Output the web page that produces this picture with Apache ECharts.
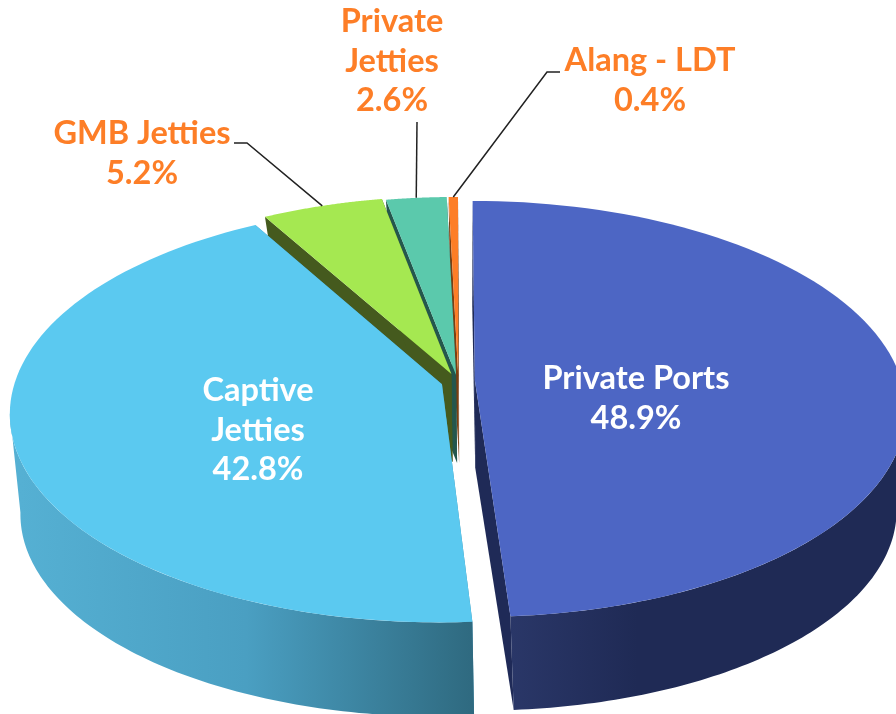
<!DOCTYPE html>
<html>
<head>
<meta charset="utf-8">
<style>html,body{margin:0;padding:0;background:#fff}#chart{width:896px;height:714px}</style>
<script src="https://cdn.jsdelivr.net/npm/echarts@6/dist/echarts.min.js"></script>
</head>
<body>
<div id="chart"></div>
<script>
var names = ['Private Ports', 'Captive\nJetties', 'GMB Jetties', 'Private\nJetties', 'Alang - LDT'];
var shares = [48.9, 42.8, 5.2, 2.6, 0.4];

// look of each slice, same order as above
var topColors = ['#4d66c4', '#5bc9f0', '#a5e851', '#5bc9ac', '#fd7e27'];
var cutColors = ['#1f2a57', '#3f8fb0', '#455a1e', '#24574d', '#7a3f12'];
var wallStops = [
    [[0, '#2a3768'], [0.33, '#1f2a55'], [1, '#1f2a55']],
    [[0, '#55b0d3'], [0.5, '#4a9fc2'], [1, '#2f6a80']],
    [[0, '#455a1e'], [1, '#455a1e']],
    [[0, '#24574d'], [1, '#24574d']],
    [[0, '#7a3f12'], [1, '#7a3f12']]
];
var drawOrder = [3, 4, 2, 1, 0];
// how far each slice is pulled out, in units of the radius
var pullX = [0.043, -0.034, -0.012, -0.001, 0.004];
var pullY = [-0.025, -0.045, 0.005, 0, 0];

// label placement: centre x, y of first line, colour
var labelX = [636, 258, 142, 392, 650];
var labelY = [379, 391, 134, 22, 61];
var labelColors = ['#ffffff', '#ffffff', '#fd7e27', '#fd7e27', '#fd7e27'];
var leaders = [null, null, [[234, 143], [247, 143]], [[417, 122]], [[560, 72], [547, 72]]];

// the two rings of the cylinder, with perspective k
var topRing = { cx: 456.5, cy: 375, rx: 425, ry: 202.6, k: 0.138 };
var bottomRing = { cx: 457.5, cy: 463, rx: 410, ry: 192, k: 0.2 };

var total = shares.reduce(function (a, b) { return a + b; }, 0);
var starts = [];
var sum = 0;
shares.forEach(function (s) {
    starts.push(sum / total * Math.PI * 2);
    sum += s;
});

function project(ring, i, angle) {
    var X = pullX[i] + Math.sin(angle);
    var Y = pullY[i] + Math.cos(angle);
    var w = 1 + ring.k * Y;
    return [ring.cx + ring.rx * X / w, ring.cy - ring.ry * Y / w];
}

function apex(ring, i) {
    var w = 1 + ring.k * pullY[i];
    return [ring.cx + ring.rx * pullX[i] / w, ring.cy - ring.ry * pullY[i] / w];
}

function rim(ring, i, a, b) {
    var pts = [];
    for (var n = 0; n <= 90; n++) {
        pts.push(project(ring, i, a + (b - a) * n / 90));
    }
    return pts;
}

// part of a ring between its two side tangents, that is what the outer wall shows
function frontRim(ring, i, a, b) {
    var from = Math.acos(-ring.k);
    var to = Math.PI * 2 - from;
    return rim(ring, i, Math.max(a, from), Math.min(b, to));
}

function renderSlice(params, api) {
    var i = api.value(0);
    var a = api.value(1);
    var b = api.value(2);
    var z = drawOrder[i] * 10;
    var topRim = rim(topRing, i, a, b);
    var bottomRim = rim(bottomRing, i, a, b);
    var topApex = apex(topRing, i);
    var bottomApex = apex(bottomRing, i);
    var children = [];

    // cut faces
    [[topRim[0], bottomRim[0]], [topRim[90], bottomRim[90]]].forEach(function (edge) {
        children.push({
            type: 'polygon',
            z2: z,
            shape: { points: [topApex, edge[0], edge[1], bottomApex] },
            style: { fill: cutColors[i] }
        });
    });
    // outer wall, the three small back slices have none in view
    if (shares[i] > 10) {
        children.push({
            type: 'polygon',
            z2: z + 1,
            shape: { points: frontRim(topRing, i, a, b).concat(frontRim(bottomRing, i, a, b).reverse()) },
            style: {
                fill: new echarts.graphic.LinearGradient(
                    i === 0 ? 510 : 20, 0, i === 0 ? 896 : 472, 0,
                    wallStops[i].map(function (s) { return { offset: s[0], color: s[1] }; }),
                    true
                )
            }
        });
    }
    // top face
    children.push({
        type: 'polygon',
        z2: z + 2,
        shape: { points: [topApex].concat(topRim) },
        style: { fill: topColors[i] }
    });

    // leader line from the rim at the middle of the slice
    if (leaders[i]) {
        children.push({
            type: 'polyline',
            z2: 100,
            shape: { points: leaders[i].concat([project(topRing, i, (a + b) / 2)]) },
            style: { stroke: '#222', lineWidth: 1.5, fill: null }
        });
    }
    // label
    children.push({
        type: 'text',
        z2: 101,
        style: {
            text: names[i] + '\n' + shares[i].toFixed(1) + '%',
            x: labelX[i],
            y: labelY[i] - 20,
            align: 'center',
            verticalAlign: 'top',
            fill: labelColors[i],
            font: 'bold 32.5px Lato',
            lineHeight: 39.5
        }
    });
    return { type: 'group', children: children };
}

var chart = echarts.init(document.getElementById('chart'));

var option = {
    animation: false,
    series: [{
        type: 'custom',
        coordinateSystem: 'none',
        renderItem: renderSlice,
        data: names.map(function (n, i) {
            var end = i + 1 < starts.length ? starts[i + 1] : Math.PI * 2;
            return [i, starts[i], end];
        })
    }]
};

chart.setOption(option);

window.onresize = chart.resize;
</script>
</body>
</html>
